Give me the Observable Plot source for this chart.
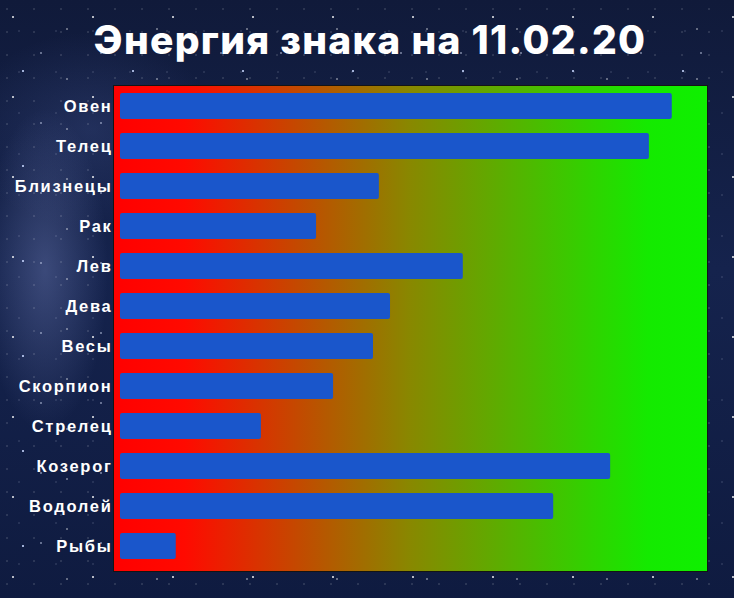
<!DOCTYPE html>
<html><head><meta charset="utf-8">
<script src="https://cdn.jsdelivr.net/npm/d3@7"></script>
<script src="https://cdn.jsdelivr.net/npm/@observablehq/plot@0.6"></script>
<style>
html,body{margin:0;padding:0;}
body{
  width:734px;height:598px;overflow:hidden;position:relative;
  background:
    radial-gradient(1.2px 1.2px at 13px 17px, rgba(255,255,255,0.85) 50%, transparent 100%),
    radial-gradient(1px 1px at 41px 53px, rgba(220,230,255,0.7) 50%, transparent 100%),
    radial-gradient(1px 1px at 67px 29px, rgba(255,255,255,0.6) 50%, transparent 100%),
    radial-gradient(1.4px 1.4px at 23px 71px, rgba(200,215,255,0.8) 50%, transparent 100%),
    radial-gradient(0.8px 0.8px at 7px 9px, rgba(255,255,255,0.5) 50%, transparent 100%),
    radial-gradient(0.8px 0.8px at 19px 31px, rgba(230,235,255,0.45) 50%, transparent 100%),
    radial-gradient(ellipse 90px 230px at 45px 270px, rgba(130,145,205,0.35), transparent 70%),
    radial-gradient(ellipse 180px 140px at 90px 130px, rgba(90,110,180,0.22), transparent 70%),
    linear-gradient(180deg, #101a3a 0%, #15234d 45%, #0f1b40 100%);
  background-size: 80px 80px, 60px 70px, 90px 50px, 110px 95px, 27px 23px, 37px 41px, 100% 100%, 100% 100%, 100% 100%;
}
#title{
  height:78px;line-height:80px;text-align:center;color:#fff;
  font-family:Inter,"Open Sans",sans-serif;font-weight:800;font-size:39px;
  letter-spacing:1.3px;padding-left:6px;
}
#chart svg g[aria-label="y-axis tick label"] text{letter-spacing:1.7px;}
</style></head><body>
<div id="title">Энергия знака на 11.02.20</div>
<div id="chart"></div>
<script>
const signs = ["Овен","Телец","Близнецы","Рак","Лев","Дева","Весы","Скорпион","Стрелец","Козерог","Водолей","Рыбы"];
const energy = [94.0, 90.1, 44.1, 33.4, 58.4, 46.0, 43.1, 36.3, 24.0, 83.5, 73.8, 9.5];
const data = signs.map((s, i) => ({sign: s, energy: energy[i]}));

const chart = Plot.plot({
  width: 734, height: 520,
  marginLeft: 113, marginRight: 27, marginTop: 7, marginBottom: 27,
  style: {background: "transparent", color: "#fff", fontFamily: "'Liberation Sans', Arial, sans-serif", fontSize: "16.5px", fontWeight: "bold"},
  x: {domain: [0, 100], insetLeft: 7, axis: null},
  y: {domain: signs, paddingInner: 0.34, paddingOuter: 0, insetTop: 3, insetBottom: 7, label: null, axis: null},
  marks: [
    Plot.frame({fill: "url(#energyGrad)", stroke: "#141414", strokeWidth: 1}),
    Plot.barX(data, {x: "energy", y: "sign", fill: "#1a56cb", rx: 2}),
    Plot.axisY({tickSize: 0, tickPadding: 1, label: null, fill: "#fff", stroke: "#fff", strokeWidth: 0.5})
  ]
});
const svg = d3.select(chart);
const defs = svg.insert("defs", ":first-child");
const g = defs.append("linearGradient").attr("id", "energyGrad").attr("x1", "0").attr("x2", "1").attr("y1", "0").attr("y2", "0");
[["0%", "#ff0000"], ["12%", "#ff0a00"], ["50%", "#888800"], ["90%", "#14ea00"], ["100%", "#0ff000"]]
  .forEach(([o, c]) => g.append("stop").attr("offset", o).attr("stop-color", c));
document.getElementById("chart").append(chart);
</script>
</body></html>
